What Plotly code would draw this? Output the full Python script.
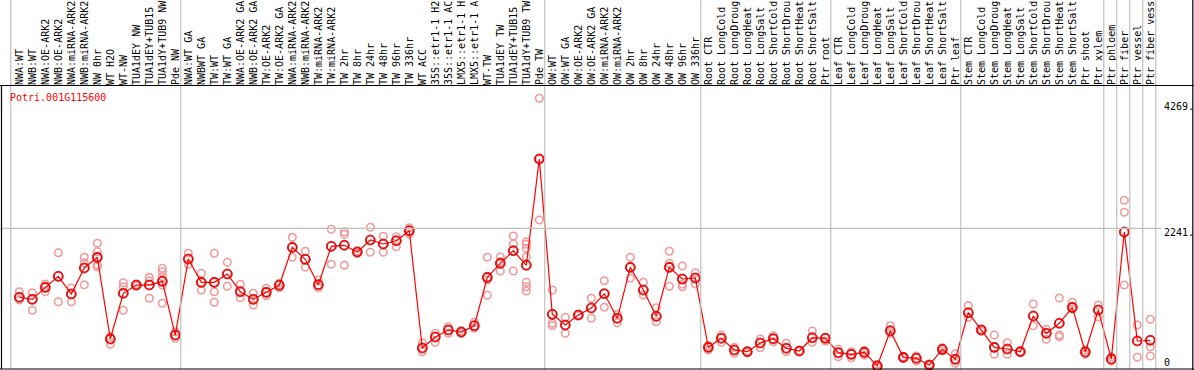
import plotly.graph_objects as go

W, H = 1194, 370

gene_id = "Potri.001G115600"

categories = [
    "NWA:WT", "NWB:WT", "NWA:OE-ARK2", "NWB:OE-ARK2", "NWA:miRNA-ARK2", "NWB:miRNA-ARK2",
    "NW 0hr", "WT H2O", "WT-NW", "TUA1dEY NW", "TUA1dEY+TUB15", "TUA1dY+TUB9 NW", "Pde NW",
    "NWA:WT GA", "NWBWT GA", "TW:WT", "TW:WT GA", "NWA:OE-ARK2 GA", "NWB:OE-ARK2 GA",
    "TW:OE-ARK2", "TW:OE-ARK2 GA", "NWA:miRNA-ARK2", "NWB:miRNA-ARK2", "TW:miRNA-ARK2",
    "TW:miRNA-ARK2", "TW 2hr", "TW 8hr", "TW 24hr", "TW 48hr", "TW 96hr", "TW 336hr",
    "WT ACC", "35S::etr1-1 H2", "35S::etr1-1 AC", "LMX5::etr1-1 H", "LMX5::etr1-1 A",
    "WT-TW", "TUA1dEY TW", "TUA1dEY+TUB15", "TUA1dY+TUB9 TW", "Pde TW",
    "OW:WT", "OW:WT GA", "OW:OE-ARK2", "OW:OE-ARK2 GA", "OW:miRNA-ARK2", "OW:miRNA-ARK2",
    "OW 2hr", "OW 8hr", "OW 24hr", "OW 48hr", "OW 96hr", "OW 336hr",
    "Root CTR", "Root LongCold", "Root LongDroug", "Root LongHeat", "Root LongSalt",
    "Root ShortCold", "Root ShortDrou", "Root ShortHeat", "Root ShortSalt", "Ptr root",
    "Leaf CTR", "Leaf LongCold", "Leaf LongDroug", "Leaf LongHeat", "Leaf LongSalt",
    "Leaf ShortCold", "Leaf ShortDrou", "Leaf ShortHeat", "Leaf ShortSalt", "Ptr leaf",
    "Stem CTR", "Stem LongCold", "Stem LongDroug", "Stem LongHeat", "Stem LongSalt",
    "Stem ShortCold", "Stem ShortDrou", "Stem ShortHeat", "Stem ShortSalt", "Ptr shoot",
    "Ptr xylem", "Ptr phloem", "Ptr fiber", "Ptr vessel", "Ptr fiber vess",
]

group_sizes = [13, 28, 12, 10, 10, 11, 1, 1, 1, 1]

mean_expr = [
    1165, 1133, 1320, 1492, 1216, 1622, 1788, 514, 1227, 1356, 1356, 1414, 576,
    1762, 1398, 1398, 1528, 1252, 1133, 1242, 1352, 1944, 1757, 1361, 1960, 1976,
    1871, 2058, 1996, 2047, 2203, 374, 545, 654, 623, 721, 1476, 1695, 1891, 1664, 3322,
    899, 732, 888, 998, 1221, 837, 1632, 1278, 868, 1632, 1450, 1466,
    384, 525, 342, 316, 452, 519, 369, 327, 534, 525,
    300, 275, 306, 93, 643, 228, 213, 108, 353, 197,
    924, 654, 384, 358, 316, 873, 603, 759, 1008, 311, 966,
    202, 2183, 483, 494,
]

replicates = [
    [1252, 1122], [1236, 962], [1372, 1252], [1860, 1096], [1310, 1096],
    [1789, 1704, 1361], [2007, 1876, 1668, 1642], [550, 431], [1392, 1330, 962],
    [1367, 1341], [1476, 1419, 1149], [1617, 1564, 1486, 1356, 1071], [628, 525],
    [1851, 1679], [1539, 1278], [1851, 1252, 1087], [1711, 1336], [1367, 1158],
    [1227, 1044], [1305, 1190], [1383, 1314], [2100, 1789], [1882, 1633],
    [1434, 1314], [2225, 1679], [2188, 2147, 1664], [1887, 1851], [2257, 1867],
    [2116, 1867], [2110, 1954], [2250, 2152], [456, 316], [603, 463], [706, 603],
    [639, 603], [775, 681], [1789, 1434, 1196], [1793, 1720, 1575],
    [2121, 1996, 1575], [2032, 1991, 1929, 1798, 1399, 1330, 1263],
    [4269, 3327, 2370],
    [1278, 759, 721], [853, 603], [888, 880], [1149, 837], [1423, 1009], [899, 768],
    [1789, 1461], [1399, 1200], [1002, 784], [1882, 1695, 1336], [1653, 1367, 1330],
    [1548, 1372],
    [410, 342], [576, 463], [385, 291], [327, 306], [514, 378], [565, 472],
    [447, 316], [332, 322], [639, 463], [541, 483],
    [353, 238], [316, 222], [338, 264], [119, 77], [721, 603], [238, 218],
    [249, 171], [119, 98], [378, 327], [285, 135],
    [1034, 853], [670, 639], [576, 275], [456, 275], [322, 311], [1060, 721],
    [665, 509], [1154, 576, 550], [1087, 982], [342, 275], [1044, 862],
    [238, 171], [2678, 2491, 1356], [732, 229], [821, 394, 249],
]

y_tick_values = [4269, 2241, 0]
y_tick_text = ["4269.", "2241.", "0"]

# ---------------------------------------------------------------- geometry
X0_PX, STEP_PX = 19.3, 13.0          # pixel of first category, pixels per category
TOP_PX, BOT_PX = 86.0, 370.0         # data area in pixels
Y0_PX, Y_SCALE = 371.95, 0.064103    # pixel of value 0, pixels per unit

x_range = [(0 - X0_PX) / STEP_PX, (W - X0_PX) / STEP_PX]
y_range = [(Y0_PX - BOT_PX) / Y_SCALE, (Y0_PX - TOP_PX) / Y_SCALE]

xs = list(range(len(categories)))
rep_x, rep_y = [], []
for i, reps in enumerate(replicates):
    for v in reps:
        rep_x.append(i)
        rep_y.append(v)

MONO = "DejaVu Sans Mono"

fig = go.Figure()
fig.add_trace(go.Scatter(
    x=rep_x, y=rep_y, mode="markers", hoverinfo="skip", cliponaxis=False,
    marker=dict(symbol="circle-open", size=7.5, color="#f09a9a", line=dict(width=1.6)),
))
fig.add_trace(go.Scatter(
    x=xs, y=mean_expr, mode="lines", cliponaxis=False,
    line=dict(color="#ff0000", width=1.2),
))
fig.add_trace(go.Scatter(
    x=xs, y=mean_expr, mode="markers", cliponaxis=False,
    marker=dict(symbol="circle-open", size=10, color="rgba(60,0,0,0.6)", line=dict(width=1)),
))
fig.add_trace(go.Scatter(
    x=xs, y=mean_expr, mode="markers", cliponaxis=False,
    marker=dict(symbol="circle-open", size=8.5, color="#ff0000", line=dict(width=1.6)),
))


def px_x(p):
    return p / W


def px_y(p):
    return 1 - p / H


shapes = []
# group separators
bounds = [-0.66]
acc = 0
for g in group_sizes:
    acc += g
    bounds.append(acc - 1 + 0.42)
for b in bounds:
    shapes.append(dict(type="line", xref="x", yref="paper", x0=b, x1=b,
                       y0=px_y(369), y1=1, line=dict(color="#c0c0c0", width=1.2)))
# horizontal grid line at the middle tick
shapes.append(dict(type="line", xref="paper", yref="y", x0=px_x(1), x1=px_x(1161),
                   y0=y_tick_values[1], y1=y_tick_values[1],
                   line=dict(color="#c0c0c0", width=1.2)))
# frame
blk = dict(color="black", width=1.2)
shapes.append(dict(type="line", xref="paper", yref="paper", x0=0, x1=1,
                   y0=px_y(85.5), y1=px_y(85.5), line=blk))
shapes.append(dict(type="line", xref="paper", yref="paper", x0=0, x1=1,
                   y0=px_y(369), y1=px_y(369), line=blk))
shapes.append(dict(type="line", xref="paper", yref="paper", x0=px_x(1.5), x1=px_x(1.5),
                   y0=px_y(85.5), y1=px_y(369), line=blk))
shapes.append(dict(type="line", xref="paper", yref="paper", x0=px_x(1192.8), x1=px_x(1192.8),
                   y0=0, y1=1, line=blk))

annotations = [
    dict(text=gene_id, xref="paper", yref="paper", x=px_x(8), y=px_y(97.5),
         xanchor="left", yanchor="middle", showarrow=False,
         font=dict(family=MONO, size=10, color="#ff0000")),
]
for txt, ypx in zip(y_tick_text, [107, 232, 362]):
    annotations.append(dict(text=txt, xref="paper", yref="paper", x=px_x(1162), y=px_y(ypx),
                            xanchor="left", yanchor="middle", showarrow=False,
                            font=dict(family=MONO, size=10, color="black")))

fig.update_layout(
    width=W, height=H, margin=dict(l=0, r=0, t=0, b=0),
    paper_bgcolor="white", plot_bgcolor="white", showlegend=False, hovermode=False,
    shapes=shapes, annotations=annotations,
    xaxis=dict(range=x_range, side="top", tickmode="array", tickvals=xs, ticktext=categories,
               tickangle=-90, ticks="", showgrid=False, zeroline=False, showline=False,
               tickfont=dict(family=MONO, size=10, color="black"), ticklabelstandoff=0),
    yaxis=dict(range=y_range, domain=[0, 1 - TOP_PX / H], showgrid=False, zeroline=False,
               showticklabels=False, showline=False),
)

fig.write_html(
    "out.html",
    config={"displayModeBar": False, "staticPlot": True},
    post_script="document.body.style.margin='0';document.body.style.overflow='hidden';",
)
